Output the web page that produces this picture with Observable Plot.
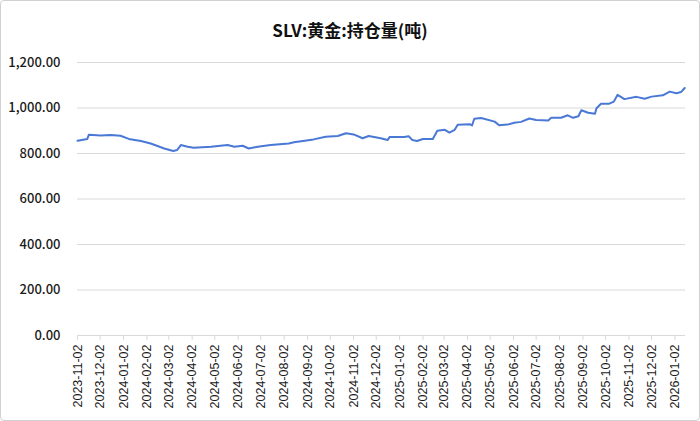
<!DOCTYPE html>
<html>
<head>
<meta charset="utf-8">
<script src="https://cdn.jsdelivr.net/npm/d3@7"></script>
<script src="https://cdn.jsdelivr.net/npm/@observablehq/plot@0.6"></script>
<style>
  html, body { margin: 0; padding: 0; background: #fff; }
  #wrap { position: relative; width: 700px; height: 421px; overflow: hidden; font-family: "Noto Sans CJK SC", "Noto Sans", sans-serif; }
  #frame { position: absolute; left: 0; top: 0; width: 700px; height: 421px; box-sizing: border-box; border: 1px solid #d0d0d0; border-radius: 4px; pointer-events: none; }
  #title { height: 45px; box-sizing: border-box; padding-top: 18px; text-align: center; font-size: 17px; line-height: 24px; font-weight: bold; color: #111; }
  #chart svg { display: block; }
  .yax text { font-family: "Noto Sans CJK SC", sans-serif; font-size: 13px; font-weight: 500; }
  .xax text { font-family: "Liberation Sans", Arial, sans-serif; font-size: 12.5px; }
</style>
</head>
<body>
<div id="wrap">
  <div id="title"></div>
  <div id="chart"></div>
  <div id="frame"></div>
</div>
<script>
const titleText = "SLV:黄金:持仓量(吨)";

const dates = [
  "2023-11-02","2023-11-15","2023-11-17","2023-12-03","2023-12-16","2023-12-29",
  "2024-01-09","2024-01-25","2024-02-07","2024-02-25","2024-03-08","2024-03-13",
  "2024-03-18","2024-03-27","2024-04-04","2024-04-27","2024-05-19","2024-05-28",
  "2024-06-08","2024-06-16","2024-06-28","2024-07-15","2024-08-08","2024-08-15",
  "2024-09-10","2024-09-26","2024-10-12","2024-10-23","2024-11-02","2024-11-14",
  "2024-11-22","2024-12-08","2024-12-17","2024-12-20","2025-01-08","2025-01-14",
  "2025-01-19","2025-01-25","2025-02-02","2025-02-15","2025-02-21","2025-03-03",
  "2025-03-09","2025-03-16","2025-03-20","2025-04-05","2025-04-08","2025-04-11",
  "2025-04-20","2025-05-08","2025-05-14","2025-05-25","2025-06-03","2025-06-12",
  "2025-06-23","2025-07-02","2025-07-18","2025-07-22","2025-08-04","2025-08-13",
  "2025-08-20","2025-08-27","2025-08-31","2025-09-09","2025-09-18","2025-09-20",
  "2025-09-26","2025-10-07","2025-10-13","2025-10-18","2025-10-27","2025-11-12",
  "2025-11-23","2025-12-02","2025-12-17","2025-12-26","2026-01-04","2026-01-10",
  "2026-01-15"
];
const holdings = [
  856, 864, 882, 879, 881, 878,
  864, 855, 844, 822, 811, 815,
  837, 830, 825, 830, 837, 830,
  834, 822, 830, 837, 844, 849,
  862, 874, 877, 889, 884, 867,
  877, 867, 859, 873, 873, 876,
  859, 855, 864, 864, 900, 904,
  892, 904, 926, 929, 923, 953,
  956, 940, 924, 927, 935, 939,
  954, 947, 945, 957, 957, 968,
  957, 964, 990, 979, 975, 999,
  1019, 1019, 1028, 1058, 1039, 1049,
  1041, 1050, 1056, 1072, 1065, 1070,
  1088
];

const xTickLabels = [
  "2023-11-02","2023-12-02","2024-01-02","2024-02-02","2024-03-02","2024-04-02",
  "2024-05-02","2024-06-02","2024-07-02","2024-08-02","2024-09-02","2024-10-02",
  "2024-11-02","2024-12-02","2025-01-02","2025-02-02","2025-03-02","2025-04-02",
  "2025-05-02","2025-06-02","2025-07-02","2025-08-02","2025-09-02","2025-10-02",
  "2025-11-02","2025-12-02","2026-01-02"
];
const yTicks = [0, 200, 400, 600, 800, 1000, 1200];
const xStart = "2023-11-02";
const xEnd = "2026-01-16";

document.getElementById("title").textContent = titleText;

const parse = d3.utcParse("%Y-%m-%d");
const data = dates.map((d, i) => ({date: parse(d), value: holdings[i]}));
const xTicks = xTickLabels.map(parse);

const chart = Plot.plot({
  width: 700,
  height: 376,
  marginLeft: 77,
  marginRight: 15,
  marginTop: 17,
  marginBottom: 86,
  style: {fontFamily: "'Noto Sans CJK SC', 'Noto Sans', sans-serif", fontSize: "12px", color: "#1a1a1a", background: "transparent"},
  x: {type: "utc", domain: [parse(xStart), parse(xEnd)]},
  y: {domain: [0, 1200]},
  marks: [
    Plot.gridY(yTicks.filter(d => d > 0), {stroke: "#d9d9d9", strokeOpacity: 1, strokeWidth: 1}),
    Plot.ruleY([0], {stroke: "#d9d9d9", strokeWidth: 1}),
    Plot.axisY(yTicks, {className: "yax", tickSize: 0, tickPadding: 17, tickFormat: d3.format(",.2f"), label: null, fill: "#1a1a1a"}),
    Plot.axisX(xTicks, {className: "xax", tickSize: 5, stroke: "#d9d9d9", tickRotate: -90, tickPadding: 4, tickFormat: d3.utcFormat("%Y-%m-%d"), label: null, fill: "#1a1a1a"}),
    Plot.lineY(data, {x: "date", y: "value", stroke: "#4a78d6", strokeWidth: 2})
  ]
});
document.getElementById("chart").appendChild(chart);
</script>
</body>
</html>
